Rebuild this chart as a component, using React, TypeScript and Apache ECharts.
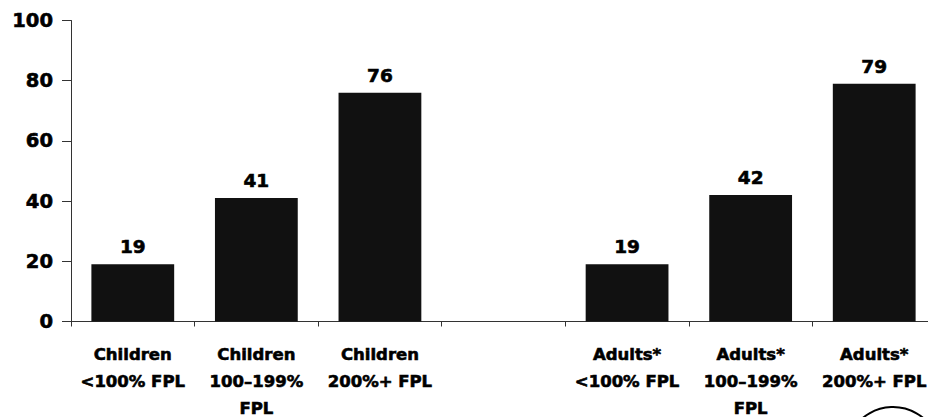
import React, { useEffect, useRef } from "react";
import * as echarts from "echarts";

const categories = [
  "Children\n<100% FPL",
  "Children\n100–199%\nFPL",
  "Children\n200%+ FPL",
  "",
  "Adults*\n<100% FPL",
  "Adults*\n100–199%\nFPL",
  "Adults*\n200%+ FPL",
];
const values: (number | null)[] = [19, 41, 76, null, 19, 42, 79];
const yTicks = [0, 20, 40, 60, 80, 100];

const FONT = "'DejaVu Sans', 'Liberation Sans', Arial, sans-serif";

export default function App() {
  const ref = useRef<HTMLDivElement>(null);
  useEffect(() => {
    if (!ref.current) return;
    const chart = echarts.init(ref.current, null, { renderer: "svg" });
    chart.setOption({
      animation: false,
      backgroundColor: "#ffffff",
      grid: {
        left: 71,
        right: 0,
        top: 20.5,
        bottom: 95.5,
        containLabel: false,
        outerBoundsMode: "none",
      },
      xAxis: {
        type: "category",
        data: categories,
        axisLine: { lineStyle: { color: "#333", width: 1 } },
        axisTick: { show: true, length: 5, alignWithLabel: false, lineStyle: { color: "#333" } },
        axisLabel: {
          interval: 0,
          margin: 19,
          fontFamily: FONT,
          fontWeight: "bold",
          fontSize: 16.5,
          lineHeight: 27,
          color: "#000",
          textBorderColor: "#000",
          textBorderWidth: 0.6,
        },
      },
      yAxis: {
        type: "value",
        min: yTicks[0],
        max: yTicks[yTicks.length - 1],
        interval: 20,
        splitLine: { show: false },
        axisLine: { show: true, lineStyle: { color: "#333", width: 1 } },
        axisTick: { show: true, length: 9, lineStyle: { color: "#333" } },
        axisLabel: {
          margin: 18,
          fontFamily: FONT,
          fontWeight: "bold",
          fontSize: 19.5,
          color: "#000",
          textBorderColor: "#000",
          textBorderWidth: 0.6,
        },
      },
      series: [
        {
          type: "bar",
          data: values,
          barWidth: "67%",
          itemStyle: { color: "#111111" },
          label: {
            show: true,
            position: "top",
            distance: 8,
            fontFamily: FONT,
            fontWeight: "bold",
            fontSize: 18.5,
            color: "#000",
            textBorderColor: "#000",
            textBorderWidth: 0.6,
          },
        },
      ],
      graphic: [
        {
          type: "circle",
          shape: { cx: 893, cy: 454, r: 47 },
          style: { fill: "none", stroke: "#000", lineWidth: 2 },
          silent: true,
        },
      ],
    });
    return () => chart.dispose();
  }, []);
  return (
    <div
      style={{
        position: "fixed",
        left: 0,
        top: 0,
        width: 928,
        height: 417,
        overflow: "hidden",
        background: "#fff",
      }}
    >
      <div ref={ref} style={{ width: 936, height: 417 }} />
    </div>
  );
}
